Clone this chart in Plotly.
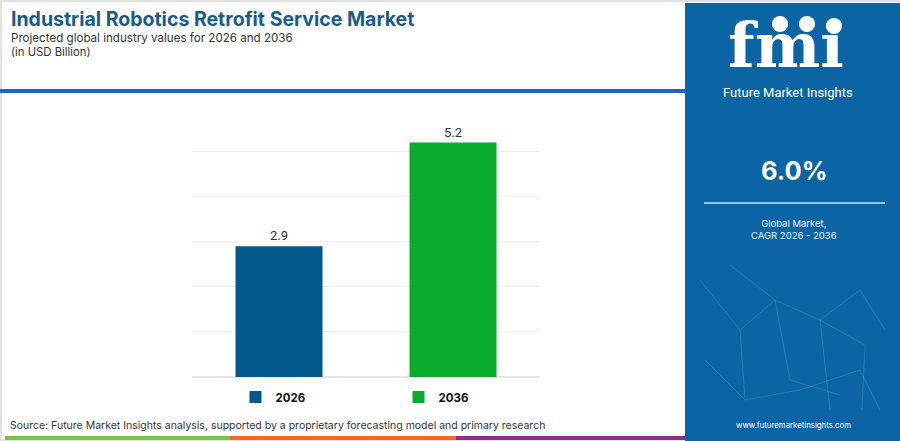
import plotly.graph_objects as go

# データ
years = ["2026", "2036"]
values = [2.9, 5.2]
bar_colors = ["#03588c", "#08ab2c"]
cagr_text = "6.0%"

W, H = 900, 441
PLOT_L, PLOT_R, PLOT_T, PLOT_B = 192, 540, 129, 377
Y_MAX = 5.5
PANEL = "#0b65a5"


def px(x):
    # ピクセル -> paper座標 (x)
    return (x - PLOT_L) / (PLOT_R - PLOT_L)


def py(y):
    # ピクセル -> paper座標 (y)
    return (PLOT_B - y) / (PLOT_B - PLOT_T)


fig = go.Figure()

for year, val, color in zip(years, values, bar_colors):
    fig.add_trace(
        go.Bar(
            x=[year],
            y=[val],
            name=year,
            marker={"color": color, "line": {"width": 0}},
            text=[f"{val:.1f}"],
            textposition="outside",
            textfont={"family": "Roboto", "size": 13, "color": "#333333"},
            cliponaxis=False,
            hovertemplate="%{x}: %{y}<extra></extra>",
        )
    )

shapes = []
# 外枠
shapes.append(dict(type="rect", xref="paper", yref="paper", x0=px(1), x1=px(899), y0=py(440), y1=py(1),
                   line={"color": "#d9d9d9", "width": 1.5}, fillcolor="rgba(0,0,0,0)", layer="below"))
# ヘッダー下の青線
shapes.append(dict(type="line", xref="paper", yref="paper", x0=px(0), x1=px(686), y0=py(91), y1=py(91),
                   line={"color": "#1f6aa8", "width": 4}))
# 右パネル
shapes.append(dict(type="rect", xref="paper", yref="paper", x0=px(685), x1=px(900), y0=py(441), y1=py(3),
                   line={"width": 0}, fillcolor=PANEL, layer="below"))
# パネル背景のネットワーク模様（装飾）
net = [
    (700, 280, 740, 330), (740, 330, 775, 300), (775, 300, 820, 320), (820, 320, 860, 290),
    (860, 290, 885, 330), (740, 330, 745, 400), (775, 300, 790, 380), (820, 320, 830, 410),
    (745, 400, 800, 390), (800, 390, 860, 370), (860, 370, 880, 410), (705, 360, 745, 400),
    (730, 265, 775, 300), (820, 320, 865, 345), (865, 345, 862, 410), (790, 380, 840, 395),
]
for x0, y0, x1, y1 in net:
    shapes.append(dict(type="line", xref="paper", yref="paper", x0=px(x0), x1=px(x1), y0=py(y0), y1=py(y1),
                       line={"color": "rgba(255,255,255,0.12)", "width": 1}))
# 下部のカラーストライプ
for x0, x1, c in [(5, 230, "#7cc142"), (230, 456, "#ec6b2d"), (456, 685, "#8b2f87")]:
    shapes.append(dict(type="rect", xref="paper", yref="paper", x0=px(x0), x1=px(x1), y0=py(440), y1=py(436),
                       line={"width": 0}, fillcolor=c))
# CAGR下の線
shapes.append(dict(type="line", xref="paper", yref="paper", x0=px(704), x1=px(885), y0=py(203), y1=py(203),
                   line={"color": "#8cc4ec", "width": 2}))
# ロゴの地球アイコン
for cx, cy in [(780, 24), (807, 24), (834, 26)]:
    shapes.append(dict(type="circle", xref="paper", yref="paper", x0=px(cx - 8), x1=px(cx + 8),
                       y0=py(cy + 8), y1=py(cy - 8), line={"width": 0}, fillcolor="white"))

annotations = [
    dict(text="<b>Industrial Robotics Retrofit Service Market</b>", x=px(9), y=py(19), xanchor="left",
         yanchor="middle", font={"family": "Inter", "size": 19.5, "color": "#1b5a8e"}),
    dict(text="Projected global industry values for 2026 and 2036", x=px(9), y=py(37.5), xanchor="left",
         yanchor="middle", font={"family": "Inter", "size": 11.6, "color": "#333333"}),
    dict(text="(in USD Billion)", x=px(9), y=py(52), xanchor="left", yanchor="middle",
         font={"family": "Inter", "size": 11.3, "color": "#333333"}),
    dict(text="Source: Future Market Insights analysis, supported by a proprietary forecasting model and primary research",
         x=px(8), y=py(425), xanchor="left", yanchor="middle",
         font={"family": "Inter", "size": 10.5, "color": "#333333"}),
    dict(text="<b>fmi</b>", x=px(786), y=py(46), xanchor="center", yanchor="middle",
         font={"family": "DejaVu Serif", "size": 62, "color": "white"}),
    dict(text="Future Market Insights", x=px(788), y=py(93), xanchor="center", yanchor="middle",
         font={"family": "Roboto", "size": 13, "color": "white"}),
    dict(text=f"<b>{cagr_text}</b>", x=px(794), y=py(170), xanchor="center", yanchor="middle",
         font={"family": "Inter", "size": 25.5, "color": "white"}),
    dict(text="Global Market,<br>CAGR 2026 - 2036", x=px(794), y=py(229), xanchor="center", yanchor="middle",
         font={"family": "Inter", "size": 9.5, "color": "#e6f0f8"}),
    dict(text="www.futuremarketinsights.com", x=px(793), y=py(425), xanchor="center", yanchor="middle",
         font={"family": "Inter", "size": 7.8, "color": "white"}),
]
for a in annotations:
    a.update(xref="paper", yref="paper", showarrow=False)

fig.update_layout(
    width=W,
    height=H,
    margin={"l": PLOT_L, "r": W - PLOT_R, "t": PLOT_T, "b": H - PLOT_B, "pad": 0, "autoexpand": False},
    paper_bgcolor="white",
    plot_bgcolor="white",
    barmode="overlay",
    bargap=0.5,
    showlegend=True,
    legend={
        "orientation": "h",
        "x": px(235.5),
        "y": py(397),
        "xanchor": "left",
        "yanchor": "middle",
        "entrywidth": 118,
        "font": {"family": "Inter", "size": 11.5, "color": "#111111", "weight": "bold"},
        "bgcolor": "rgba(0,0,0,0)",
        "itemwidth": 30,
    },
    xaxis={"showticklabels": False, "showgrid": False, "zeroline": False, "showline": False},
    yaxis={
        "range": [0, Y_MAX],
        "dtick": 1,
        "showticklabels": False,
        "gridcolor": "#eeeeee",
        "gridwidth": 1,
        "zeroline": True,
        "zerolinecolor": "#e6e6e6",
        "showline": False,
    },
    shapes=shapes,
    annotations=annotations,
)

fig.write_html(
    "out.html",
    config={"displayModeBar": False},
    post_script="document.body.style.margin='0';",
)
